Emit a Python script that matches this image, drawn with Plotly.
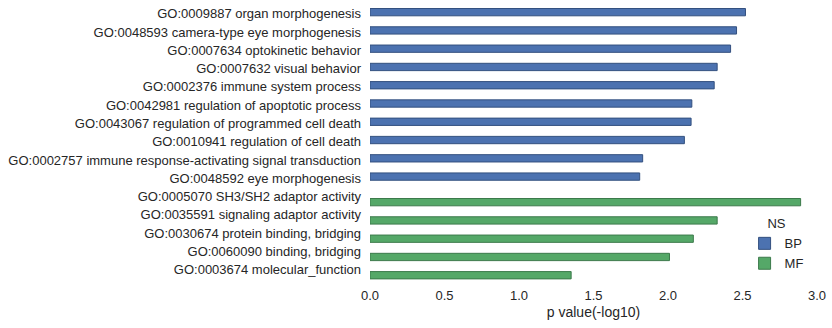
import plotly.graph_objects as go

# GO terms, top to bottom
terms = [
    "GO:0009887 organ morphogenesis",
    "GO:0048593 camera-type eye morphogenesis",
    "GO:0007634 optokinetic behavior",
    "GO:0007632 visual behavior",
    "GO:0002376 immune system process",
    "GO:0042981 regulation of apoptotic process",
    "GO:0043067 regulation of programmed cell death",
    "GO:0010941 regulation of cell death",
    "GO:0002757 immune response-activating signal transduction",
    "GO:0048592 eye morphogenesis",
    "GO:0005070 SH3/SH2 adaptor activity",
    "GO:0035591 signaling adaptor activity",
    "GO:0030674 protein binding, bridging",
    "GO:0060090 binding, bridging",
    "GO:0003674 molecular_function",
]

# -log10 p values per namespace (None where the term belongs to the other namespace)
bp_values = [2.52, 2.46, 2.42, 2.33, 2.31, 2.16, 2.155, 2.11, 1.83, 1.81,
             None, None, None, None, None]
mf_values = [None, None, None, None, None, None, None, None, None, None,
             2.89, 2.33, 2.17, 2.01, 1.35]

x_ticks = [0.0, 0.5, 1.0, 1.5, 2.0, 2.5, 3.0]

text_color = "#262626"
font_family = "Liberation Sans, Arial, sans-serif"

# two bars per category slot, BP in the upper half and MF in the lower half
bar_w = 0.4
fig = go.Figure()
fig.add_trace(go.Bar(
    y=terms, x=bp_values, name="BP", orientation="h",
    width=bar_w, offset=-0.29,
    marker=dict(color="#4C72B0", line=dict(color="#33507f", width=1)),
))
fig.add_trace(go.Bar(
    y=terms, x=mf_values, name="MF", orientation="h",
    width=bar_w, offset=0.11,
    marker=dict(color="#55A868", line=dict(color="#3c7a4b", width=1)),
))

fig.update_layout(
    width=832, height=328,
    margin=dict(l=370, r=15, t=0, b=46),
    paper_bgcolor="white", plot_bgcolor="white",
    barmode="overlay",
    font=dict(family=font_family, size=13, color=text_color),
    showlegend=True,
    legend=dict(
        title=dict(text="NS", side="top center", font=dict(size=13)),
        x=0.838, xanchor="left", y=0.25, yanchor="top",
        bgcolor="rgba(0,0,0,0)", font=dict(size=13),
        tracegroupgap=0,
    ),
    xaxis=dict(
        range=[0, 3.0], tickvals=x_ticks, tickformat=".1f",
        showgrid=False, zeroline=False, showline=False, ticks="",
        ticklabelstandoff=4,
        title=dict(text="p value(-log10)", font=dict(size=14), standoff=5),
        tickfont=dict(size=13),
    ),
    yaxis=dict(
        type="category", categoryorder="array", categoryarray=terms,
        range=[14.68, -0.755],
        showgrid=False, zeroline=False, showline=False, ticks="",
        ticklabelstandoff=8, tickfont=dict(size=13),
    ),
)

fig.write_html("out.html")
